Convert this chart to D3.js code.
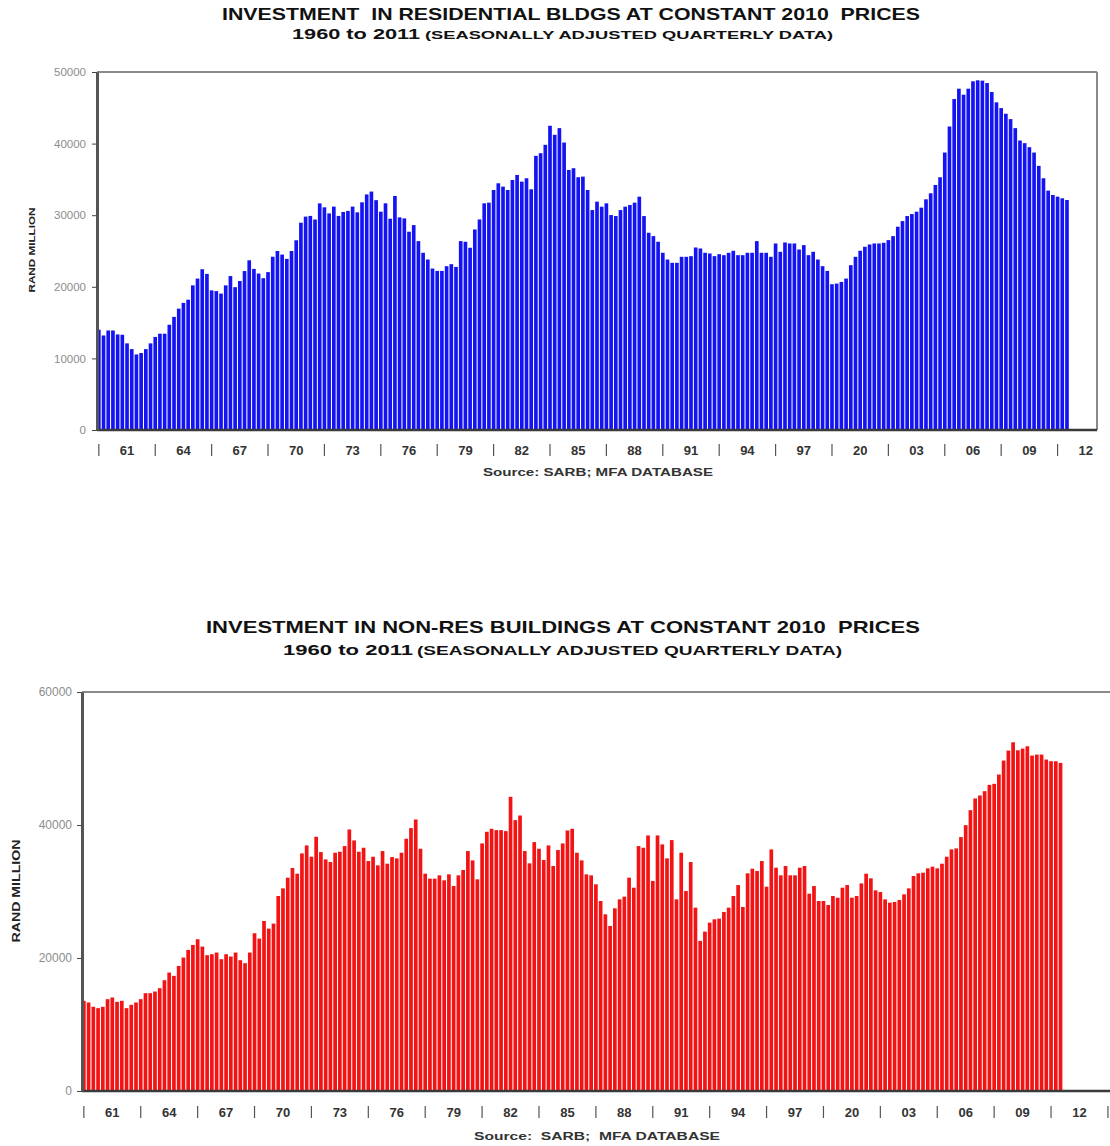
<!doctype html>
<html lang="en">
<head>
<meta charset="UTF-8">
<title>Investment in buildings at constant 2010 prices</title>
<script src="https://d3js.org/d3.v7.min.js"></script>
<style>
  body { margin: 0; background: #fff; }
  svg text { font-family: "Liberation Sans", Arial, sans-serif; white-space: pre; }
</style>
</head>
<body>
<svg width="1110" height="1146"></svg>
<script>

// quarters 1960Q1 .. 2011Q3
const quarters = d3.range(1960, 2012).flatMap(y => [1, 2, 3, 4].map(q => y + "Q" + q)).slice(0, 207);

// residential buildings, R million (2010 prices)
const residential = [
  14000, 13200, 13900, 13900, 13350, 13300, 12100, 11300, 10550, 10750,
  11300, 12100, 13000, 13450, 13450, 14700, 15800, 16950, 17750, 18200,
  20200, 21150, 22450, 21800, 19500, 19400, 19050, 20200, 21500, 19950,
  20800, 22200, 23700, 22500, 21850, 21200, 22050, 24200, 25000, 24500,
  23900, 25000, 26500, 28950, 29800, 29900, 29400, 31650, 31100, 30250,
  31200, 29900, 30450, 30600, 31200, 30400, 31800, 32900, 33300, 32100,
  30490, 31660, 29510, 32680, 29700, 29550, 27690, 28620, 26380, 24750,
  23810, 22550, 22220, 22220, 22880, 23160, 22780, 26380, 26290, 25450,
  28010, 29410, 31660, 31750, 33520, 34460, 33990, 33520, 34920, 35620,
  34690, 35160, 33620, 38290, 38660, 39830, 42490, 41230, 42160, 40150,
  36320, 36560, 35300, 35390, 33520, 30720, 31890, 31190, 31660, 30020,
  29880, 30720, 31190, 31420, 31750, 32590, 29880, 27550, 27080, 26290,
  24750, 23810, 23350, 23350, 24190, 24190, 24280, 25490, 25350, 24750,
  24650, 24280, 24560, 24420, 24750, 25030, 24420, 24420, 24750, 24750,
  26380, 24750, 24750, 24190, 26050, 24890, 26190, 26050, 26050, 25210,
  25820, 24420, 24890, 23810, 22880, 22220, 20360, 20450, 20680, 21150,
  23020, 24190, 25030, 25590, 25910, 26050, 26050, 26150, 26520, 27080,
  28390, 29180, 29880, 30160, 30490, 31050, 32220, 33060, 34220, 35300,
  38750, 42390, 46220, 47670, 46830, 47670, 48700, 48840, 48790, 48460,
  47200, 45760, 44960, 44170, 43420, 42160, 40430, 40060, 39500, 38750,
  36890, 35160, 33430, 32820, 32590, 32360, 32120
];

// non-residential buildings, R million (2010 prices)
const nonResidential = [
  13560, 13310, 12660, 12460, 12660, 13810, 14060, 13410, 13560, 12460,
  12960, 13310, 13810, 14710, 14710, 14960, 15460, 16660, 17810, 17310,
  18810, 20070, 21220, 21970, 22820, 21720, 20420, 20570, 20820, 19820,
  20570, 20220, 20820, 19670, 19220, 20820, 23720, 22920, 25570, 24420,
  25170, 29320, 30470, 32080, 33530, 32680, 35730, 36930, 35230, 38230,
  35930, 34830, 34430, 35830, 35980, 36830, 39330, 37680, 35980, 36580,
  34580, 35230, 33930, 36080, 34180, 35180, 34980, 35830, 37930, 39530,
  40830, 36430, 32680, 31930, 31930, 32430, 31680, 32580, 30820, 32430,
  33230, 36080, 34680, 31830, 37230, 38980, 39430, 39230, 39230, 39080,
  44240, 40730, 41430, 36080, 34230, 37430, 36430, 34730, 36930, 33830,
  36230, 37230, 39180, 39430, 35830, 34680, 32580, 32430, 31080, 28570,
  26570, 24820, 27470, 28820, 29220, 32080, 30570, 36830, 36580, 38430,
  31580, 38430, 37080, 34980, 37730, 28820, 35830, 30070, 34430, 27570,
  22570, 23970, 25320, 25820, 25920, 26920, 27570, 29320, 30970, 27670,
  32730, 33430, 33080, 34580, 30720, 36330, 33580, 32430, 33830, 32430,
  32430, 33580, 33830, 29670, 30820, 28570, 28570, 27970, 29320, 29070,
  30570, 30970, 29070, 29320, 31220, 32680, 31980, 30170, 29920, 28820,
  28320, 28420, 28720, 29570, 30470, 32330, 32730, 32830, 33480, 33730,
  33480, 34180, 35230, 36330, 36480, 38180, 39980, 42230, 43990, 44440,
  45090, 46040, 46190, 47590, 49690, 51190, 52440, 51240, 51490, 51840,
  50440, 50590, 50590, 49840, 49590, 49590, 49340
];

// category axis labels, one every 12 quarters
const yearLabels = ["61", "64", "67", "70", "73", "76", "79", "82", "85", "88",
                    "91", "94", "97", "20", "03", "06", "09", "12"];

const resTicks = [0, 10000, 20000, 30000, 40000, 50000];
const nonResTicks = [0, 20000, 40000, 60000];

const svg = d3.select("svg");

function drawPanel(p) {
  const x = d3.scaleBand()
      .domain(d3.range(p.slots))
      .range([p.left, p.right])
      .paddingInner(0.22);
  const y = d3.scaleLinear()
      .domain([0, p.yMax])
      .range([p.bottom, p.top]);
  const bw = x.bandwidth();
  const g = svg.append("g");

  // titles
  g.append("text")
      .attr("x", p.title.x).attr("y", p.title.y)
      .attr("dy", "0.35em")
      .attr("textLength", p.title.w).attr("lengthAdjust", "spacingAndGlyphs")
      .style("font-size", p.title.size + "px").style("font-weight", "bold")
      .attr("fill", "#111")
      .text(p.title.text);
  p.sub.forEach(s => {
    g.append("text")
        .attr("x", s.x).attr("y", s.y)
        .attr("dy", "0.35em")
        .attr("textLength", s.w).attr("lengthAdjust", "spacingAndGlyphs")
        .style("font-size", s.size + "px").style("font-weight", "bold")
        .attr("fill", "#111")
        .text(s.text);
  });

  // bars
  g.append("g").selectAll("rect")
    .data(p.values)
    .join("rect")
      .attr("x", (d, i) => x(i))
      .attr("width", bw)
      .attr("y", d => y(d))
      .attr("height", d => y(0) - y(d))
      .attr("fill", p.color);

  // frame: top and right edges
  g.append("line")
      .attr("x1", p.left).attr("x2", p.frameRight)
      .attr("y1", p.top).attr("y2", p.top)
      .attr("stroke", "#8a8a8a").attr("stroke-width", 2);
  g.append("line")
      .attr("x1", p.frameRight).attr("x2", p.frameRight)
      .attr("y1", p.top).attr("y2", p.bottom)
      .attr("stroke", "#8a8a8a").attr("stroke-width", 2);

  // baseline
  g.append("line")
      .attr("x1", p.left).attr("x2", p.frameRight)
      .attr("y1", y(0)).attr("y2", y(0))
      .attr("stroke", "#3a3a3a").attr("stroke-width", 2.5);

  // y axis
  const yAxis = g.append("g")
      .attr("transform", "translate(" + p.left + ",0)")
      .call(d3.axisLeft(y).tickValues(p.ticks).tickSize(5).tickSizeOuter(0).tickFormat(d3.format("d")));
  yAxis.select(".domain").attr("stroke", "#555").attr("stroke-width", 3);
  yAxis.selectAll(".tick line").attr("stroke", "#444");
  yAxis.selectAll(".tick text")
      .attr("x", p.tickDx)
      .attr("fill", "#8c8c8c")
      .style("font-size", p.tickSize + "px")
      .style("font-family", "'Liberation Sans', Arial, sans-serif");

  g.append("text")
      .attr("transform", "translate(" + p.yLabel.x + "," + p.yLabel.y + ") rotate(-90)")
      .attr("text-anchor", "middle")
      .attr("dy", "0.35em")
      .attr("textLength", p.yLabel.w).attr("lengthAdjust", "spacingAndGlyphs")
      .style("font-size", p.yLabel.size + "px").style("font-weight", "bold")
      .attr("fill", "#222")
      .text("RAND MILLION");

  // category separators and year labels
  g.append("g").selectAll("line")
    .data(d3.range(p.nSep))
    .join("line")
      .attr("x1", k => x(k * 12) + bw / 2).attr("x2", k => x(k * 12) + bw / 2)
      .attr("y1", p.labelY - 6).attr("y2", p.labelY + 6)
      .attr("stroke", "#555").attr("stroke-width", 1.2);

  g.append("g").selectAll("text")
    .data(yearLabels)
    .join("text")
      .attr("x", (d, k) => x(k * 12 + 6) + bw / 2)
      .attr("y", p.labelY)
      .attr("dy", "0.35em")
      .attr("text-anchor", "middle")
      .style("font-size", "13px").style("font-weight", "bold")
      .attr("fill", "#333")
      .text(d => d);

  g.append("text")
      .attr("x", p.source.x).attr("y", p.source.y)
      .attr("dy", "0.35em")
      .attr("textLength", p.source.w).attr("lengthAdjust", "spacingAndGlyphs")
      .style("font-size", p.source.size + "px").style("font-weight", "bold")
      .attr("fill", "#333")
      .text(p.source.text);
}

drawPanel({
  values: residential,
  color: "#1414f2",
  left: 97, right: 1097, frameRight: 1097, top: 72, bottom: 430,
  slots: 213, yMax: 50000, ticks: resTicks, tickSize: 11.5, tickDx: -11,
  labelY: 450, nSep: 18,
  title: { text: "INVESTMENT  IN RESIDENTIAL BLDGS AT CONSTANT 2010  PRICES", x: 222, y: 14, w: 698, size: 16.5 },
  sub: [
    { text: "1960 to 2011", x: 292, y: 34, w: 128, size: 14 },
    { text: "(SEASONALLY ADJUSTED QUARTERLY DATA)", x: 425, y: 35, w: 408, size: 11.5 }
  ],
  yLabel: { x: 32, y: 250, w: 85, size: 9 },
  source: { text: "Source: SARB; MFA DATABASE", x: 483, y: 472, w: 230, size: 10.5 }
});

drawPanel({
  values: nonResidential,
  color: "#f21414",
  left: 82, right: 1124, frameRight: 1124, top: 692, bottom: 1091,
  slots: 220, yMax: 60000, ticks: nonResTicks, tickSize: 12, tickDx: -10,
  labelY: 1112, nSep: 19,
  title: { text: "INVESTMENT IN NON-RES BUILDINGS AT CONSTANT 2010  PRICES", x: 206, y: 627, w: 714, size: 16.5 },
  sub: [
    { text: "1960 to 2011", x: 283, y: 650, w: 130, size: 14 },
    { text: "(SEASONALLY ADJUSTED QUARTERLY DATA)", x: 417, y: 651, w: 425, size: 12 }
  ],
  yLabel: { x: 16, y: 891, w: 103, size: 11 },
  source: { text: "Source:  SARB;  MFA DATABASE", x: 474, y: 1136, w: 246, size: 10.5 }
});

</script>
</body>
</html>
